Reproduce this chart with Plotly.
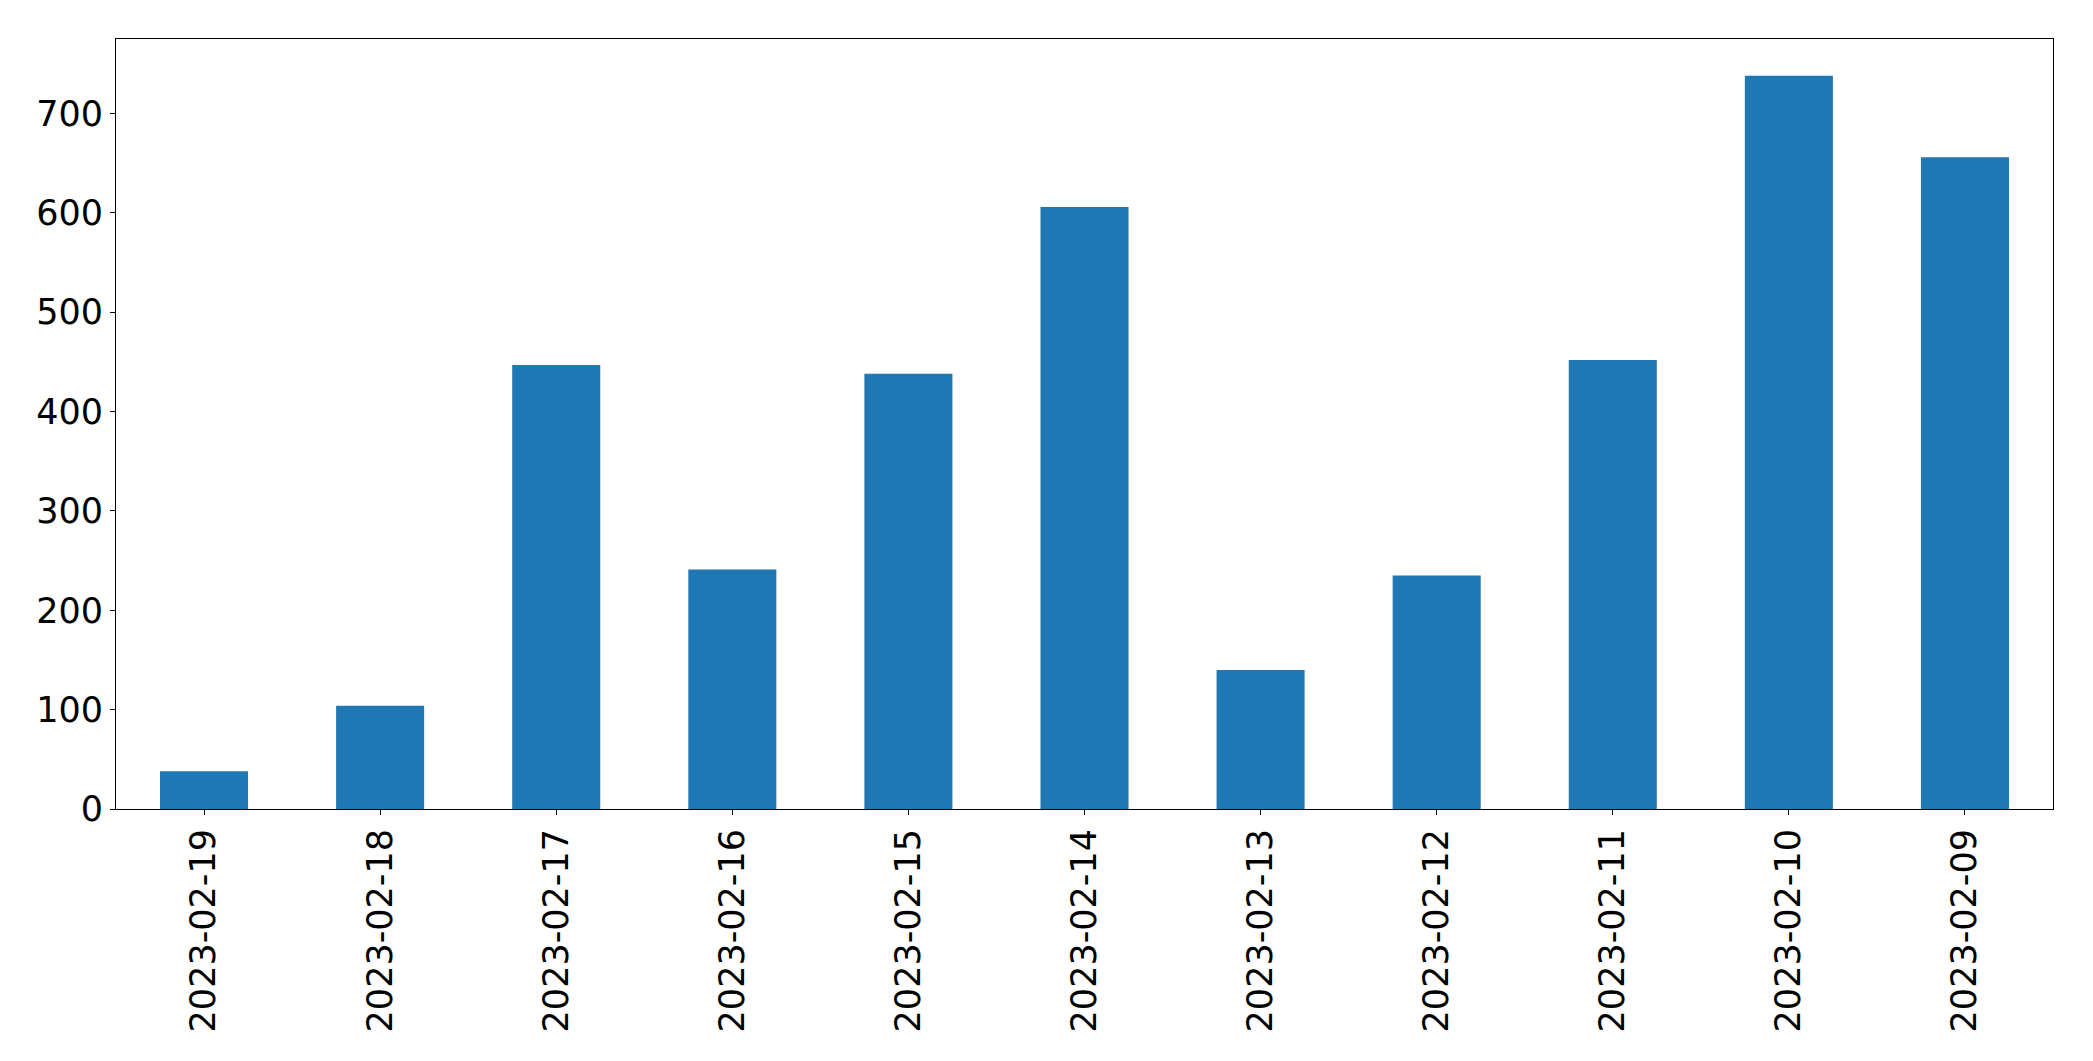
import plotly.graph_objects as go

dates = ["2023-02-19", "2023-02-18", "2023-02-17", "2023-02-16", "2023-02-15",
         "2023-02-14", "2023-02-13", "2023-02-12", "2023-02-11", "2023-02-10",
         "2023-02-09"]
counts = [38, 104, 447, 241, 438, 606, 140, 235, 452, 738, 656]
y_ticks = [0, 100, 200, 300, 400, 500, 600, 700]

fig = go.Figure(go.Bar(x=dates, y=counts, marker=dict(color="#1f77b4", line=dict(width=0))))

fig.update_layout(
    width=2077, height=1045,
    margin=dict(l=108, r=32, t=31, b=244),
    paper_bgcolor="white", plot_bgcolor="white",
    bargap=0.5,
    showlegend=False,
    font=dict(family="DejaVu Sans", size=35, color="black"),
)
fig.update_xaxes(
    type="category", range=[-0.5, 10.5], tickangle=-90,
    showline=True, linecolor="black", linewidth=1, mirror=True,
    ticks="outside", ticklen=5, tickcolor="black", showgrid=False,
    tickfont=dict(size=35),
)
fig.update_yaxes(
    range=[0, 775], tickvals=y_ticks,
    showline=True, linecolor="black", linewidth=1, mirror=True,
    ticks="outside", ticklen=5, tickcolor="black", showgrid=False, zeroline=False,
    tickfont=dict(size=35),
)

fig.write_html("out.html")
